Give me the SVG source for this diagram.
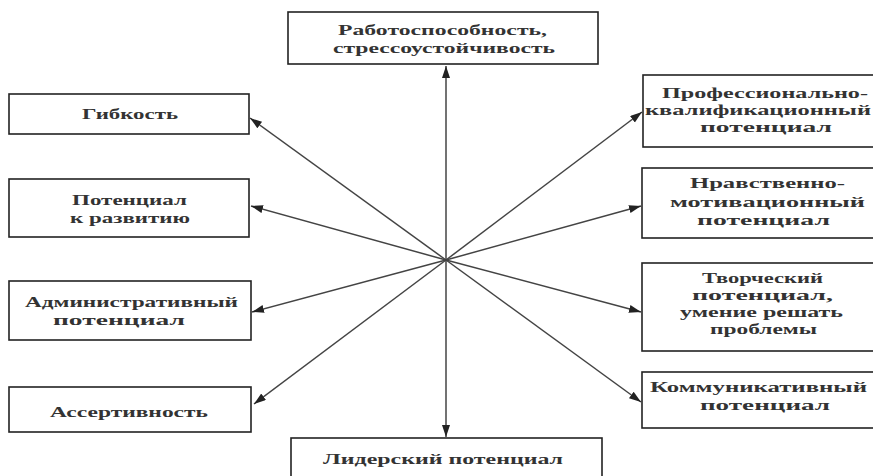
<svg xmlns="http://www.w3.org/2000/svg" width="873" height="476" viewBox="0 0 873 476">
<style>
.box{fill:#fff;stroke:#222;stroke-width:1.6}
.t{font-family:"Liberation Serif","Times New Roman",serif;font-size:15px;font-weight:bold;fill:#333}
.s{font-size:14px}
.c{stroke:#444;stroke-width:1.5;fill:none;marker-end:url(#ah)}
</style>
<defs>
<marker id="ah" markerUnits="userSpaceOnUse" markerWidth="14" markerHeight="10" refX="12" refY="4" orient="auto">
<path d="M0,0 L12,4 L0,8 Z" fill="#222"/>
</marker>
</defs>
<rect width="873" height="476" fill="#fff"/>
<g id="connectors">
<line class="c" x1="446" y1="260" x2="446" y2="66"/>
<line class="c" x1="446" y1="260" x2="446" y2="437"/>
<line class="c" x1="446" y1="260" x2="250" y2="118"/>
<line class="c" x1="446" y1="260" x2="251" y2="206"/>
<line class="c" x1="446" y1="260" x2="252" y2="312"/>
<line class="c" x1="446" y1="260" x2="254" y2="404"/>
<line class="c" x1="446" y1="260" x2="642" y2="112"/>
<line class="c" x1="446" y1="260" x2="641" y2="206"/>
<line class="c" x1="446" y1="260" x2="641" y2="312"/>
<line class="c" x1="446" y1="260" x2="641" y2="402"/>
</g>
<g id="n-top">
<rect class="box" x="288" y="12" width="310" height="52"/>
<text class="t" x="338" y="35" textLength="209" lengthAdjust="spacingAndGlyphs">Работоспособность,</text>
<text class="t" x="333" y="53" textLength="222" lengthAdjust="spacingAndGlyphs">стрессоустойчивость</text>
</g>
<g id="n-gibkost">
<rect class="box" x="9" y="94" width="240" height="40"/>
<text class="t" x="82" y="119" textLength="96" lengthAdjust="spacingAndGlyphs">Гибкость</text>
</g>
<g id="n-razvitie">
<rect class="box" x="9" y="179" width="240" height="58"/>
<text class="t" x="72" y="205" textLength="115" lengthAdjust="spacingAndGlyphs">Потенциал</text>
<text class="t" x="70" y="223" textLength="120" lengthAdjust="spacingAndGlyphs">к развитию</text>
</g>
<g id="n-admin">
<rect class="box" x="9" y="281" width="242" height="59"/>
<text class="t" x="25" y="307" textLength="213" lengthAdjust="spacingAndGlyphs">Административный</text>
<text class="t" x="53" y="325" textLength="132" lengthAdjust="spacingAndGlyphs">потенциал</text>
</g>
<g id="n-assert">
<rect class="box" x="9" y="387" width="242" height="45"/>
<text class="t" x="50" y="417" textLength="158" lengthAdjust="spacingAndGlyphs">Ассертивность</text>
</g>
<g id="n-leader">
<rect class="box" x="291" y="438" width="311" height="50"/>
<text class="t" x="323" y="464" textLength="240" lengthAdjust="spacingAndGlyphs">Лидерский потенциал</text>
</g>
<g id="n-prof">
<rect class="box" x="643" y="75" width="250" height="72"/>
<text class="t" x="662" y="98" textLength="206" lengthAdjust="spacingAndGlyphs">Профессионально-</text>
<text class="t" x="645" y="115" textLength="226" lengthAdjust="spacingAndGlyphs">квалификационный</text>
<text class="t" x="700" y="132" textLength="132" lengthAdjust="spacingAndGlyphs">потенциал</text>
</g>
<g id="n-nrav">
<rect class="box" x="642" y="168" width="250" height="70"/>
<text class="t" x="690" y="188" textLength="155" lengthAdjust="spacingAndGlyphs">Нравственно-</text>
<text class="t" x="670" y="207" textLength="195" lengthAdjust="spacingAndGlyphs">мотивационный</text>
<text class="t" x="697" y="225" textLength="133" lengthAdjust="spacingAndGlyphs">потенциал</text>
</g>
<g id="n-tvor">
<rect class="box" x="642" y="263" width="250" height="88"/>
<text class="t s" x="702" y="283" textLength="121" lengthAdjust="spacingAndGlyphs">Творческий</text>
<text class="t s" x="692" y="300" textLength="141" lengthAdjust="spacingAndGlyphs">потенциал,</text>
<text class="t s" x="680" y="317" textLength="163" lengthAdjust="spacingAndGlyphs">умение решать</text>
<text class="t s" x="710" y="334" textLength="107" lengthAdjust="spacingAndGlyphs">проблемы</text>
</g>
<g id="n-komm">
<rect class="box" x="642" y="372" width="250" height="56"/>
<text class="t" x="650" y="392" textLength="217" lengthAdjust="spacingAndGlyphs">Коммуникативный</text>
<text class="t" x="700" y="410" textLength="130" lengthAdjust="spacingAndGlyphs">потенциал</text>
</g>
</svg>
